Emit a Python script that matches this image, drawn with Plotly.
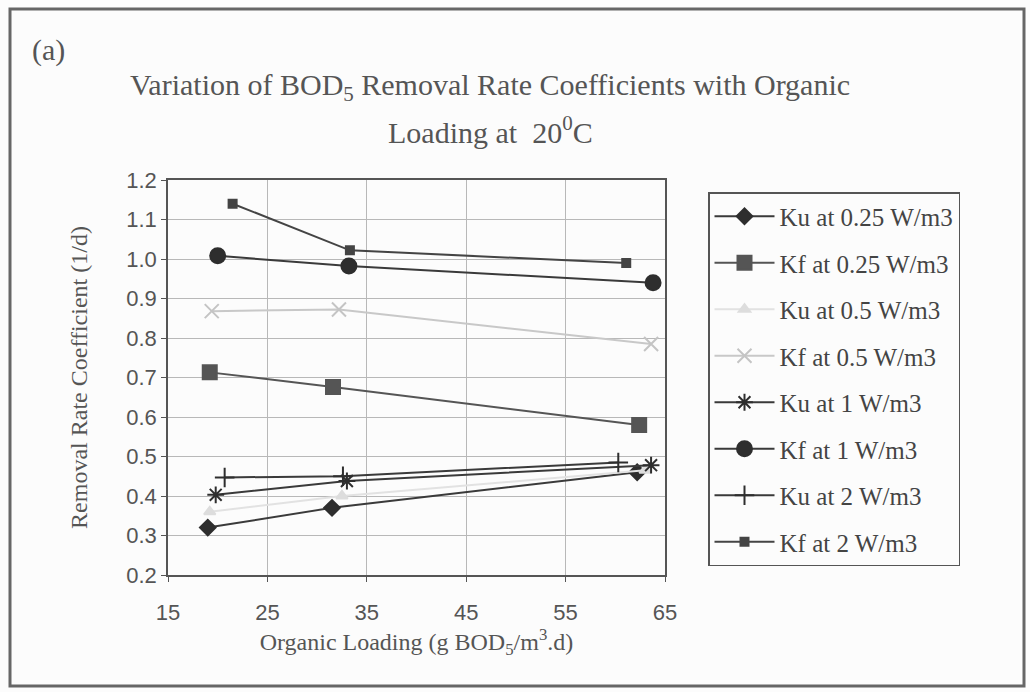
import plotly.graph_objects as go

# ---- data ----
ku025_x = [19.0, 31.5, 62.2]
ku025_y = [0.32, 0.37, 0.46]
kf025_x = [19.2, 31.6, 62.4]
kf025_y = [0.713, 0.676, 0.58]
ku05_x = [19.2, 32.5, 63.0]
ku05_y = [0.36, 0.40, 0.465]
kf05_x = [19.4, 32.2, 63.6]
kf05_y = [0.868, 0.872, 0.785]
ku1_x = [19.8, 33.0, 63.6]
ku1_y = [0.403, 0.438, 0.478]
kf1_x = [20.0, 33.2, 63.8]
kf1_y = [1.008, 0.982, 0.94]
ku2_x = [20.7, 32.6, 60.3]
ku2_y = [0.447, 0.45, 0.485]
kf2_x = [21.5, 33.3, 61.1]
kf2_y = [1.14, 1.022, 0.99]

names = ["Ku at 0.25 W/m3", "Kf at 0.25 W/m3", "Ku at 0.5 W/m3", "Kf at 0.5 W/m3",
         "Ku at 1 W/m3", "Kf at 1 W/m3", "Ku at 2 W/m3", "Kf at 2 W/m3"]
x_ticks = [15, 25, 35, 45, 55, 65]
y_ticks = [0.2, 0.3, 0.4, 0.5, 0.6, 0.7, 0.8, 0.9, 1.0, 1.1, 1.2]

series = [(ku025_x, ku025_y), (kf025_x, kf025_y), (ku05_x, ku05_y), (kf05_x, kf05_y),
          (ku1_x, ku1_y), (kf1_x, kf1_y), (ku2_x, ku2_y), (kf2_x, kf2_y)]
styles = [
    dict(line="#3a3a3a", mcol="#2e2e2e", sym="diamond", size=12, lw=2),
    dict(line="#555555", mcol="#555555", sym="square", size=14, lw=2),
    dict(line="#e2e2e2", mcol="#dddddd", sym="triangle-up", size=10, lw=2),
    dict(line="#c8c8c8", mcol="#c4c4c4", sym="x-thin-open", size=14, lw=2),
    dict(line="#3a3a3a", mcol="#2e2e2e", sym="asterisk-open", size=14, lw=2),
    dict(line="#3a3a3a", mcol="#2e2e2e", sym="circle", size=15, lw=2),
    dict(line="#3a3a3a", mcol="#2e2e2e", sym="cross-thin-open", size=14, lw=2),
    dict(line="#444444", mcol="#444444", sym="square", size=8, lw=2),
]

fig = go.Figure()
for i, ((xs, ys), nm, st) in enumerate(zip(series, names, styles)):
    fig.add_trace(go.Scatter(
        x=xs, y=ys, name=nm, mode="lines+markers", legendgroup=f"g{i}",
        line=dict(color=st["line"], width=st["lw"]),
        marker=dict(symbol=st["sym"], size=st["size"], color=st["mcol"],
                    line=dict(color=st["mcol"], width=2)),
    ))

L, R, T, B = 168, 665, 180, 575
W, H = 1030, 692
pw, ph = R - L, B - T

def px(x):
    return (x - L) / pw

def py(y):
    return (B - y) / ph

serif = "Liberation Serif, Times New Roman, serif"
sans = "Liberation Sans, Arial, sans-serif"
txt = "#555555"

fig.update_layout(
    width=W, height=H,
    margin=dict(l=L, r=W - R, t=T, b=H - B),
    paper_bgcolor="#fcfcfc", plot_bgcolor="#fcfcfc",
    showlegend=True,
    legend=dict(x=px(708), y=py(192), xanchor="left", yanchor="top",
                bgcolor="#fcfcfc", bordercolor="#555555", borderwidth=1.5,
                font=dict(family=serif, size=25, color="#444444"),
                tracegroupgap=11, itemwidth=60),
    xaxis=dict(range=[15, 65], tickvals=x_ticks, ticktext=[str(v) for v in x_ticks],
               showgrid=True, gridcolor="#b8b8b8", gridwidth=1,
               showline=True, linecolor="#555555", linewidth=1.5, mirror=True,
               ticks="outside", ticklen=5, tickcolor="#555555", ticklabelstandoff=12,
               tickfont=dict(family=sans, size=22, color=txt),
               title=dict(text="Organic Loading (g BOD<sub>5</sub>/m<sup>3</sup>.d)",
                          font=dict(family=serif, size=24, color=txt), standoff=8),
               zeroline=False),
    yaxis=dict(range=[0.2, 1.2], tickvals=y_ticks, ticktext=[f"{v:.1f}" for v in y_ticks],
               showgrid=True, gridcolor="#b8b8b8", gridwidth=1,
               showline=True, linecolor="#555555", linewidth=1.5, mirror=True,
               ticks="outside", ticklen=5, tickcolor="#555555",
               tickfont=dict(family=sans, size=22, color=txt),
               title=dict(text="Removal Rate Coefficient (1/d)",
                          font=dict(family=serif, size=24, color=txt), standoff=32),
               zeroline=False),
)

# Title lines and panel label
fig.add_annotation(text="Variation of BOD<sub>5</sub> Removal Rate Coefficients with Organic",
                   xref="paper", yref="paper", x=px(490), y=py(87), showarrow=False,
                   xanchor="center", yanchor="middle",
                   font=dict(family=serif, size=30, color=txt))
fig.add_annotation(text="Loading at  20<sup>0</sup>C",
                   xref="paper", yref="paper", x=px(490), y=py(130), showarrow=False,
                   xanchor="center", yanchor="middle",
                   font=dict(family=serif, size=30, color=txt))
fig.add_annotation(text="(a)", xref="paper", yref="paper", x=px(30), y=py(50),
                   showarrow=False, xanchor="left", yanchor="middle",
                   font=dict(family=serif, size=30, color=txt))

# outer frame
fig.add_shape(type="rect", xref="paper", yref="paper",
              x0=px(10), x1=px(1024), y0=py(686), y1=py(9),
              line=dict(color="#666666", width=3))

fig.write_html("out.html")
